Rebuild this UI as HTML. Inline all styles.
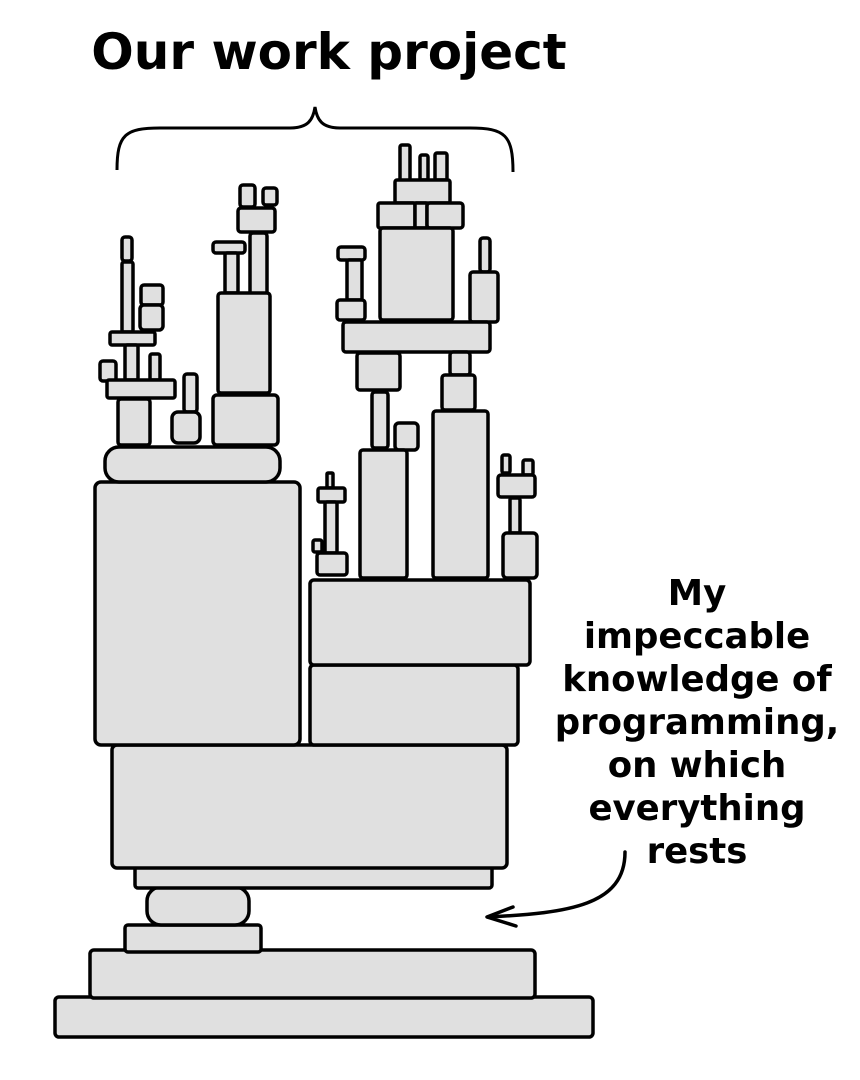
<!DOCTYPE html>
<html><head><meta charset="utf-8"><style>
html,body{margin:0;padding:0;background:#fff;}
svg{display:block;}
text{font-family:"DejaVu Sans","Liberation Sans",sans-serif;font-weight:bold;fill:#000;}
</style></head><body>
<svg width="860" height="1080" viewBox="0 0 860 1080" xmlns="http://www.w3.org/2000/svg">
<text x="329" y="69" font-size="50" text-anchor="middle">Our work project</text>
<path d="M117 170 C117 135 125 128 160 128 L290 128 C308 128 313 120 315 107 C317 120 322 128 340 128 L470 128 C505 128 513 135 513 172" fill="none" stroke="#000" stroke-width="3"/>
<g fill="#e0e0e0" stroke="#000" stroke-width="3.5" stroke-linejoin="round">
<rect x="55" y="997" width="538" height="40" rx="4"/>
<rect x="90" y="950" width="445" height="48" rx="4"/>
<rect x="125" y="925" width="136" height="27" rx="3"/>
<rect x="147" y="887" width="102" height="38" rx="14"/>
<rect x="135" y="862" width="357" height="26" rx="3"/>
<rect x="112" y="745" width="395" height="123" rx="5"/>
<rect x="310" y="665" width="208" height="80" rx="4"/>
<rect x="310" y="580" width="220" height="85" rx="4"/>
<rect x="95" y="482" width="205" height="263" rx="6"/>
<rect x="105" y="447" width="175" height="35" rx="14"/>
<rect x="122" y="237" width="10" height="24" rx="3"/>
<rect x="122" y="262" width="11" height="70" rx="2"/>
<rect x="141" y="285" width="22" height="20" rx="3"/>
<rect x="140" y="305" width="23" height="25" rx="4"/>
<rect x="110" y="332" width="45" height="13" rx="2"/>
<rect x="125" y="345" width="13" height="35" rx="2"/>
<rect x="150" y="354" width="10" height="26" rx="2"/>
<rect x="100" y="361" width="16" height="20" rx="3"/>
<rect x="107" y="380" width="68" height="18" rx="2"/>
<rect x="118" y="399" width="32" height="46" rx="3"/>
<rect x="184" y="374" width="13" height="38" rx="3"/>
<rect x="172" y="412" width="28" height="31" rx="6"/>
<rect x="240" y="185" width="15" height="22" rx="3"/>
<rect x="263" y="188" width="14" height="17" rx="3"/>
<rect x="238" y="208" width="37" height="24" rx="3"/>
<rect x="250" y="233" width="17" height="62" rx="3"/>
<rect x="213" y="242" width="32" height="11" rx="3"/>
<rect x="225" y="253" width="13" height="40" rx="2"/>
<rect x="218" y="293" width="52" height="100" rx="3"/>
<rect x="213" y="395" width="65" height="50" rx="4"/>
<rect x="400" y="145" width="10" height="37" rx="2"/>
<rect x="420" y="155" width="8" height="25" rx="2"/>
<rect x="435" y="153" width="12" height="27" rx="2"/>
<rect x="395" y="180" width="55" height="23" rx="2"/>
<rect x="378" y="203" width="37" height="25" rx="2"/>
<rect x="415" y="203" width="12" height="25" rx="1"/>
<rect x="427" y="203" width="36" height="25" rx="3"/>
<rect x="380" y="228" width="73" height="92" rx="3"/>
<rect x="338" y="247" width="27" height="13" rx="3"/>
<rect x="347" y="260" width="15" height="40" rx="2"/>
<rect x="337" y="300" width="28" height="20" rx="3"/>
<rect x="480" y="238" width="10" height="34" rx="3"/>
<rect x="470" y="272" width="28" height="50" rx="3"/>
<rect x="343" y="322" width="147" height="30" rx="3"/>
<rect x="357" y="353" width="43" height="37" rx="3"/>
<rect x="372" y="392" width="16" height="56" rx="3"/>
<rect x="395" y="423" width="23" height="27" rx="4"/>
<rect x="450" y="352" width="20" height="23" rx="3"/>
<rect x="442" y="375" width="33" height="35" rx="3"/>
<rect x="433" y="411" width="55" height="167" rx="3"/>
<rect x="360" y="450" width="47" height="128" rx="3"/>
<rect x="327" y="473" width="6" height="15" rx="1"/>
<rect x="318" y="488" width="27" height="14" rx="2"/>
<rect x="325" y="502" width="12" height="51" rx="2"/>
<rect x="313" y="540" width="9" height="12" rx="2"/>
<rect x="317" y="553" width="30" height="22" rx="3"/>
<rect x="502" y="455" width="8" height="18" rx="2"/>
<rect x="523" y="460" width="10" height="15" rx="2"/>
<rect x="498" y="475" width="37" height="22" rx="3"/>
<rect x="510" y="498" width="10" height="35" rx="2"/>
<rect x="503" y="533" width="34" height="45" rx="4"/>
</g>
<g font-size="35.5" text-anchor="middle">
<text x="697" y="605">My</text>
<text x="697" y="648">impeccable</text>
<text x="697" y="691">knowledge of</text>
<text x="697" y="734">programming,</text>
<text x="697" y="777">on which</text>
<text x="697" y="820">everything</text>
<text x="697" y="863">rests</text>
</g>
<path d="M625 852 C625 905 570 913 488 917" fill="none" stroke="#000" stroke-width="3.5" stroke-linecap="round"/>
<path d="M513 907 L487 917 L516 926" fill="none" stroke="#000" stroke-width="3.5" stroke-linecap="round" stroke-linejoin="round"/>
</svg>
</body></html>
